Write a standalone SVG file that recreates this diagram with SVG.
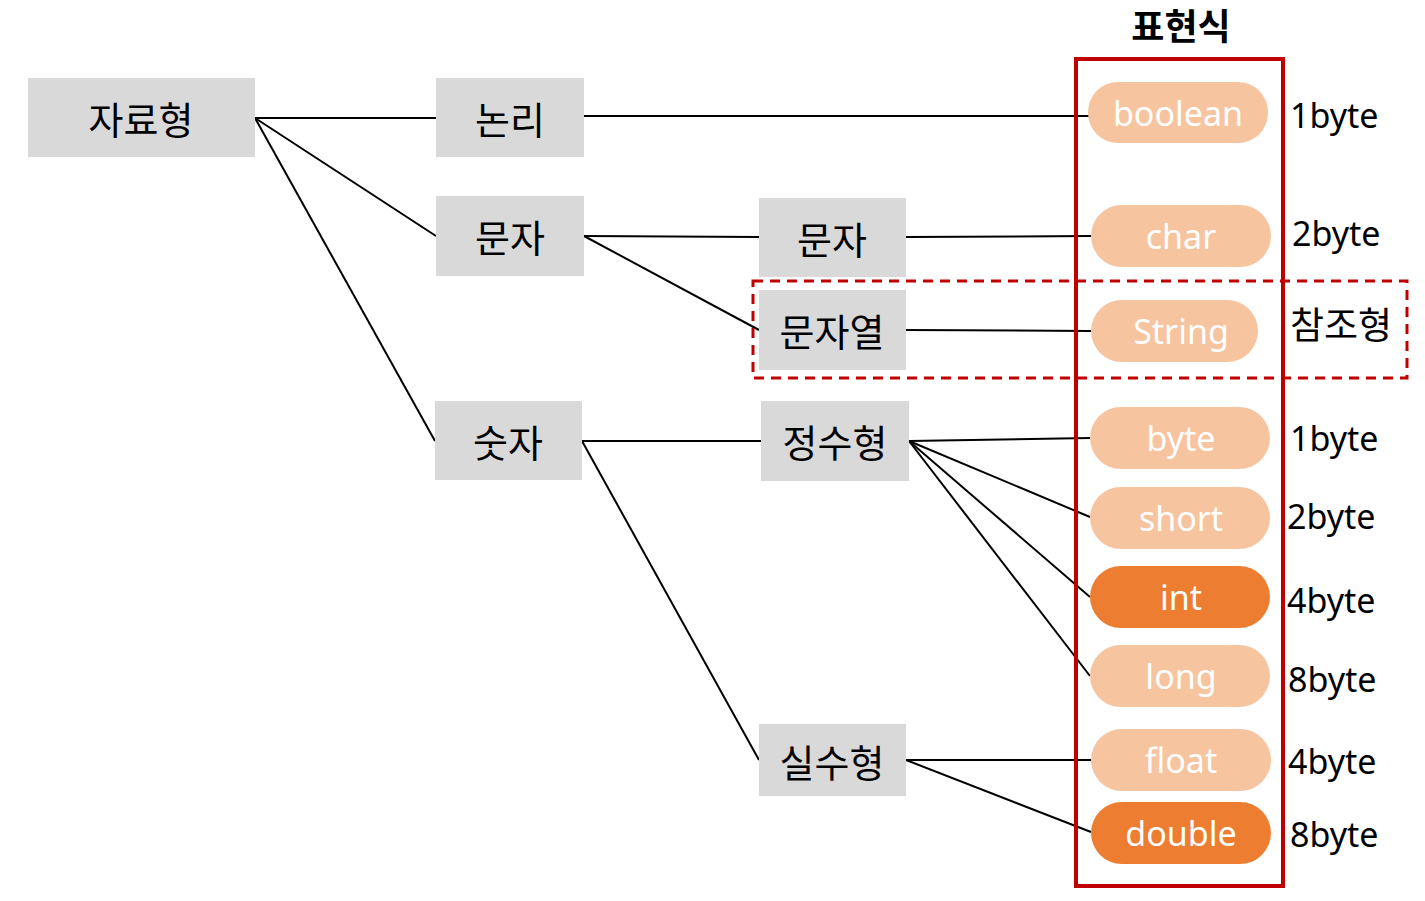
<svg xmlns="http://www.w3.org/2000/svg" width="1425" height="901" viewBox="0 0 1425 901">
<style>
.box{fill:#D9D9D9}
.kt{font-family:"Noto Sans CJK KR","Noto Sans",sans-serif;font-size:38px;fill:#000;text-anchor:middle;dominant-baseline:central}
.pl{fill:#F7C4A0}
.pd{fill:#ED7D31}
.pt{font-family:"Noto Sans","Open Sans",sans-serif;font-size:34px;fill:#fff;text-anchor:middle;dominant-baseline:central}
.sz{font-family:"Noto Sans","Open Sans","Noto Sans CJK KR",sans-serif;font-size:34px;fill:#000;dominant-baseline:central}
.kr{font-family:"Noto Sans CJK KR",sans-serif;font-size:37px}
.ln{stroke:#000;stroke-width:2;fill:none}
</style>
<rect width="1425" height="901" fill="#fff"/>
<g id="connectors">
<line class="ln" x1="255" y1="118" x2="436" y2="118"/>
<line class="ln" x1="255" y1="118" x2="436" y2="236"/>
<line class="ln" x1="255" y1="118" x2="435" y2="441"/>
<line class="ln" x1="584" y1="116" x2="1090" y2="116"/>
<line class="ln" x1="584" y1="236" x2="759" y2="237"/>
<line class="ln" x1="584" y1="236" x2="759" y2="330"/>
<line class="ln" x1="906" y1="237" x2="1091" y2="236"/>
<line class="ln" x1="906" y1="330" x2="1091" y2="331"/>
<line class="ln" x1="582" y1="441" x2="761" y2="441"/>
<line class="ln" x1="582" y1="441" x2="759" y2="760"/>
<line class="ln" x1="909" y1="441" x2="1090" y2="438"/>
<line class="ln" x1="909" y1="441" x2="1090" y2="517"/>
<line class="ln" x1="909" y1="441" x2="1090" y2="597"/>
<line class="ln" x1="909" y1="441" x2="1090" y2="676"/>
<line class="ln" x1="906" y1="760" x2="1091" y2="760"/>
<line class="ln" x1="906" y1="760" x2="1091" y2="832"/>
</g>
<g id="n-jaryohyeong"><rect class="box" x="28" y="78" width="227" height="79"/><text class="kt" x="141" y="117">자료형</text></g>
<g id="n-nonri"><rect class="box" x="436" y="78" width="148" height="79"/><text class="kt" x="510" y="117">논리</text></g>
<g id="n-munja1"><rect class="box" x="436" y="196" width="148" height="80"/><text class="kt" x="510" y="235">문자</text></g>
<g id="n-sutja"><rect class="box" x="435" y="401" width="147" height="79"/><text class="kt" x="508" y="440">숫자</text></g>
<g id="n-munja2"><rect class="box" x="759" y="198" width="147" height="79"/><text class="kt" x="832" y="237">문자</text></g>
<g id="n-munjayeol"><rect class="box" x="759" y="290" width="147" height="80"/><text class="kt" x="832" y="329">문자열</text></g>
<g id="n-jeongsu"><rect class="box" x="761" y="401" width="148" height="80"/><text class="kt" x="835" y="440">정수형</text></g>
<g id="n-silsu"><rect class="box" x="759" y="724" width="147" height="72"/><text class="kt" x="832" y="760">실수형</text></g>
<g id="frame-expr"><rect x="1076" y="59" width="207" height="827" fill="none" stroke="#C00000" stroke-width="4"/></g>
<g id="frame-ref"><rect x="753" y="281" width="654" height="97" fill="none" stroke="#C00000" stroke-width="3" stroke-dasharray="10,7"/></g>
<g id="title"><text x="1181" y="24" font-family="Noto Sans CJK KR,sans-serif" font-weight="bold" font-size="36" text-anchor="middle" dominant-baseline="central" fill="#000">표현식</text></g>
<g id="p-boolean"><rect class="pl" x="1088" y="82" width="180" height="61" rx="30"/><text class="pt" x="1178" y="113">boolean</text></g>
<g id="p-char"><rect class="pl" x="1091" y="205" width="180" height="62" rx="31"/><text class="pt" x="1181" y="236">char</text></g>
<g id="p-string"><rect class="pl" x="1091" y="300" width="167" height="62" rx="31"/><text class="pt" x="1181" y="331">String</text></g>
<g id="p-byte"><rect class="pl" x="1090" y="407" width="180" height="62" rx="31"/><text class="pt" x="1181" y="438">byte</text></g>
<g id="p-short"><rect class="pl" x="1090" y="487" width="180" height="62" rx="31"/><text class="pt" x="1181" y="518">short</text></g>
<g id="p-int"><rect class="pd" x="1090" y="566" width="180" height="62" rx="31"/><text class="pt" x="1181" y="597">int</text></g>
<g id="p-long"><rect class="pl" x="1090" y="645" width="180" height="62" rx="31"/><text class="pt" x="1181" y="676">long</text></g>
<g id="p-float"><rect class="pl" x="1091" y="729" width="180" height="62" rx="31"/><text class="pt" x="1181" y="760">float</text></g>
<g id="p-double"><rect class="pd" x="1091" y="802" width="180" height="62" rx="31"/><text class="pt" x="1181" y="833">double</text></g>
<g id="sizes">
<text class="sz" x="1290" y="115">1byte</text>
<text class="sz" x="1292" y="233">2byte</text>
<text class="sz kr" x="1290" y="323">참조형</text>
<text class="sz" x="1290" y="438">1byte</text>
<text class="sz" x="1287" y="516">2byte</text>
<text class="sz" x="1287" y="600">4byte</text>
<text class="sz" x="1288" y="679">8byte</text>
<text class="sz" x="1288" y="761">4byte</text>
<text class="sz" x="1290" y="834">8byte</text>
</g>
</svg>
